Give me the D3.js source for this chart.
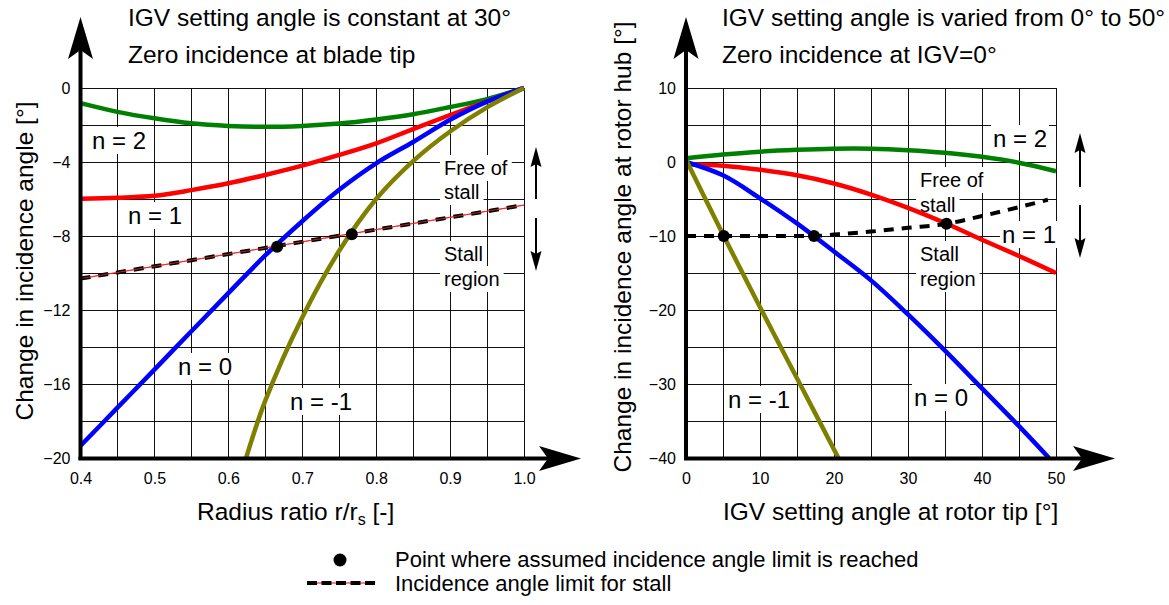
<!DOCTYPE html>
<html><head><meta charset="utf-8">
<script src="https://cdn.jsdelivr.net/npm/d3@7"></script>
<style>
body{margin:0;background:#fff}
svg{display:block}
text{font-family:"Liberation Sans",Arial,Helvetica,sans-serif;fill:#000}
</style></head><body>
<svg id="chart" width="1169" height="605"></svg>
<script>
// ---------- DATA ----------
// Left chart: IGV constant at 30 deg, change of incidence vs radius ratio
const radiusRatio = [0.4,0.45,0.5,0.55,0.6,0.65,0.7,0.75,0.8,0.85,0.9,0.95,1.0];
const leftN2 = [-0.82,-1.29,-1.64,-1.91,-2.05,-2.1,-2.05,-1.92,-1.7,-1.42,-1.03,-0.6,0];
const leftN1 = [-5.98,-5.93,-5.83,-5.52,-5.15,-4.7,-4.2,-3.62,-2.99,-2.22,-1.46,-0.72,0];
const leftN0 = [-19.34,-17.28,-15.22,-13.15,-11.09,-9.05,-7.2,-5.5,-4.07,-2.92,-1.72,-0.74,0];
const leftNm1X = [0.624,0.65,0.7,0.75,0.8,0.85,0.9,0.95,1.0];
const leftNm1 = [-20,-16.9,-12.4,-8.8,-6.0,-3.95,-2.35,-1.05,0];
const leftLimitX = [0.4,1.0];
const leftLimit = [-10.3,-6.33];
const leftStallX = [0.666,0.767];
const leftStallY = [-8.58,-7.91];
const leftXTicks = [0.4,0.5,0.6,0.7,0.8,0.9,1.0];
const leftYTicks = [0,-4,-8,-12,-16,-20];

// Right chart: IGV varied 0..50 deg, change of incidence at hub
const igvAngle = [0,5,10,15,20,25,30,35,40,45,50];
const rightN2 = [0.5,1.0,1.4,1.65,1.8,1.8,1.6,1.25,0.7,-0.1,-1.25];
const rightN1 = [-0.3,-0.5,-1.05,-1.8,-2.9,-4.4,-6.2,-8.25,-10.5,-12.7,-15.0];
const rightN0X = [0,5,10,15,20,25,30,35,40,45,49.05];
const rightN0 = [0,-1.8,-4.9,-8.3,-12.1,-16.0,-20.6,-25.5,-30.6,-35.7,-40];
const rightNm1X = [0,5.1,10.2,15.4,20.6];
const rightNm1 = [0.3,-10,-20,-30,-40];
const rightLimitX = [0,5,10,15,17.3,20,25,30,35.2,40,45,48.9];
const rightLimit = [-10,-10,-10,-10,-10,-9.8,-9.4,-8.9,-8.35,-7.3,-6.1,-5.1];
const rightStallX = [5.1,17.3,35.2];
const rightStallY = [-10,-10,-8.35];
const rightXTicks = [0,10,20,30,40,50];
const rightYTicks = [10,0,-10,-20,-30,-40];

const colors = {n2:"#008000", n1:"#ff0000", n0:"#0000ff", nm1:"#808000"};

// ---------- DRAW ----------
const svg = d3.select("#chart");
const zip = (xs, ys) => xs.map((x,i)=>[x, ys[i]]);

function labelBox(g, x, y, str, size, pad){
  const t = g.append("text").attr("x",x).attr("y",y).attr("font-size",size).text(str);
  const b = t.node().getBBox();
  g.insert("rect", () => t.node())
    .attr("x", b.x - pad).attr("y", b.y - pad + 2)
    .attr("width", b.width + 2*pad).attr("height", b.height + 2*pad - 4)
    .attr("fill", "#fff");
  return t;
}

function arrowHead(g, tipX, tipY, dir, len, half, notch){
  let p;
  if (dir==="up") p = [[tipX,tipY],[tipX-half,tipY+len],[tipX,tipY+len-notch],[tipX+half,tipY+len]];
  else if (dir==="down") p = [[tipX,tipY],[tipX-half,tipY-len],[tipX,tipY-len+notch],[tipX+half,tipY-len]];
  else p = [[tipX,tipY],[tipX-len,tipY-half],[tipX-len+notch,tipY],[tipX-len,tipY+half]];
  g.append("path").attr("d","M"+p.map(d=>d.join(",")).join("L")+"Z").attr("fill","#000");
}

function panel(cfg){
  const g = svg.append("g");
  const x = cfg.x, y = cfg.y;
  const [x0,x1] = x.range(), [y0,y1] = y.range();
  // grid
  const grid = g.append("g").attr("stroke","#111").attr("stroke-width",1).attr("shape-rendering","crispEdges");
  cfg.gridX.forEach(v => grid.append("line").attr("x1",x(v)).attr("x2",x(v)).attr("y1",y0).attr("y2",y1));
  cfg.gridY.forEach(v => grid.append("line").attr("x1",x0).attr("x2",x1).attr("y1",y(v)).attr("y2",y(v)));
  // labels with white boxes
  const lg = g.append("g");
  cfg.labels.forEach(l => labelBox(lg, l.x, l.y, l.t, l.s, l.p===undefined?2:l.p));
  // curves
  const line = d3.line().x(d=>x(d[0])).y(d=>y(d[1])).curve(d3.curveCatmullRom.alpha(0.5));
  cfg.series.forEach(s => g.append("path").datum(s.data).attr("d",line)
      .attr("fill","none").attr("stroke",s.color).attr("stroke-width",4.5).attr("stroke-linecap","butt"));
  // stall limit
  const lin = d3.line().x(d=>x(d[0])).y(d=>y(d[1])).curve(d3.curveMonotoneX);
  if (cfg.redUnder) g.append("path").datum(cfg.limit).attr("d",lin).attr("fill","none").attr("stroke","#ff0000").attr("stroke-width",1);
  g.append("path").datum(cfg.limit).attr("d",lin).attr("fill","none").attr("stroke","#000")
    .attr("stroke-width",4).attr("stroke-dasharray","10,8");
  if (cfg.redUnder) g.append("path").datum(cfg.limit).attr("d",lin).attr("fill","none").attr("stroke","#ff3030").attr("stroke-width",0.7);
  // stall points
  g.selectAll("circle.st").data(cfg.points).enter().append("circle")
    .attr("cx",d=>x(d[0])).attr("cy",d=>y(d[1])).attr("r",6).attr("fill","#000");
  // axes lines and arrows
  g.append("line").attr("x1",x0).attr("x2",x0).attr("y1",y0+2).attr("y2",48).attr("stroke","#000").attr("stroke-width",4);
  arrowHead(g, x0, 17, "up", 42, 12.5, 9);
  g.append("line").attr("x1",x0-2).attr("x2",cfg.xArrowTip-30).attr("y1",y0+0.5).attr("y2",y0+0.5).attr("stroke","#000").attr("stroke-width",4);
  arrowHead(g, cfg.xArrowTip, y0+0.5, "right", 42, 12.5, 9);
  // tick labels via d3 axes
  const ax = g.append("g").attr("transform",`translate(0,${y0})`)
    .call(d3.axisBottom(x).tickValues(cfg.xTicks).tickFormat(cfg.xFmt).tickSize(0).tickPadding(15));
  ax.select(".domain").remove();
  ax.selectAll("text").attr("font-size",16).attr("font-family",null).attr("fill","#000");
  const ay = g.append("g").attr("transform",`translate(${x0},0)`)
    .call(d3.axisLeft(y).tickValues(cfg.yTicks).tickFormat(d3.format("d")).tickSize(0).tickPadding(10));
  ay.select(".domain").remove();
  ay.selectAll("text").attr("font-size",16).attr("font-family",null).attr("fill","#000");
  // region arrows
  const ra = cfg.regionArrow;
  g.append("line").attr("x1",ra.x).attr("x2",ra.x).attr("y1",ra.upTip+10).attr("y2",ra.upBottom).attr("stroke","#000").attr("stroke-width",2);
  arrowHead(g, ra.x, ra.upTip, "up", 20, 5.5, 3);
  g.append("line").attr("x1",ra.x).attr("x2",ra.x).attr("y1",ra.downTop).attr("y2",ra.downTip-10).attr("stroke","#000").attr("stroke-width",2);
  arrowHead(g, ra.x, ra.downTip, "down", 20, 5.5, 3);
  // titles
  cfg.titles.forEach(t=> g.append("text").attr("x",t.x).attr("y",t.y).attr("font-size",24.5).text(t.t));
  // x title
  const xt = g.append("text").attr("x",cfg.xTitle.x).attr("y",520).attr("font-size",24.5);
  cfg.xTitle.parts.forEach(p => {
    const ts = xt.append("tspan").text(p.t);
    if (p.sub) ts.attr("font-size",16).attr("dy",5);
    else if (p.after) ts.attr("dy",-5);
  });
  // y title
  g.append("text").attr("transform",`translate(${cfg.yTitle.x},${cfg.yTitle.y}) rotate(-90)`)
    .attr("text-anchor","middle").attr("font-size",24.5).text(cfg.yTitle.t);
}

const xL = d3.scaleLinear().domain([0.4,1.0]).range([80.5,524]);
const yL = d3.scaleLinear().domain([-20,0]).range([458,88]);
const xR = d3.scaleLinear().domain([0,50]).range([686,1056]);
const yR = d3.scaleLinear().domain([-40,10]).range([458,88]);

panel({
  x:xL, y:yL,
  gridX: d3.range(9,21).map(i=>i*0.05),
  gridY: d3.range(-9,1).map(i=>i*2),
  labels:[
    {x:92,y:149,t:"n = 2",s:24},
    {x:128,y:224,t:"n = 1",s:24},
    {x:178,y:375,t:"n = 0",s:24},
    {x:290,y:410,t:"n = -1",s:24},
    {x:444,y:175,t:"Free of",s:20,p:4},
    {x:444,y:199,t:"stall",s:20,p:4},
    {x:444,y:261,t:"Stall",s:20,p:4},
    {x:444,y:286,t:"region",s:20,p:4}
  ],
  series:[
    {data:zip(radiusRatio,leftN2), color:colors.n2},
    {data:zip(radiusRatio,leftN1), color:colors.n1},
    {data:zip(radiusRatio,leftN0), color:colors.n0},
    {data:zip(leftNm1X,leftNm1), color:colors.nm1}
  ],
  limit: zip(leftLimitX,leftLimit), redUnder:true,
  points: zip(leftStallX,leftStallY),
  xArrowTip:581,
  xTicks:leftXTicks, xFmt:d3.format(".1f"), yTicks:leftYTicks,
  regionArrow:{x:536, upTip:147, upBottom:199, downTop:218, downTip:271},
  titles:[{x:128,y:26,t:"IGV setting angle is constant at 30°"},{x:128,y:62.5,t:"Zero incidence at blade tip"}],
  xTitle:{x:197, parts:[{t:"Radius ratio r/r"},{t:"s",sub:true},{t:" [-]",after:true}]},
  yTitle:{x:33,y:261,t:"Change in incidence angle [°]"}
});

panel({
  x:xR, y:yR,
  gridX: d3.range(1,11).map(i=>i*5),
  gridY: d3.range(-7,3).map(i=>i*5),
  labels:[
    {x:993,y:147,t:"n = 2",s:24},
    {x:1002,y:243,t:"n = 1",s:24},
    {x:914,y:406,t:"n = 0",s:24},
    {x:728,y:408,t:"n = -1",s:24},
    {x:920,y:187,t:"Free of",s:20,p:4},
    {x:920,y:212,t:"stall",s:20,p:4},
    {x:920,y:261,t:"Stall",s:20,p:4},
    {x:920,y:286,t:"region",s:20,p:4}
  ],
  series:[
    {data:zip(igvAngle,rightN2), color:colors.n2},
    {data:zip(igvAngle,rightN1), color:colors.n1},
    {data:zip(rightN0X,rightN0), color:colors.n0},
    {data:zip(rightNm1X,rightNm1), color:colors.nm1}
  ],
  limit: zip(rightLimitX,rightLimit), redUnder:false,
  points: zip(rightStallX,rightStallY),
  xArrowTip:1115,
  xTicks:rightXTicks, xFmt:d3.format("d"), yTicks:rightYTicks,
  regionArrow:{x:1080, upTip:133, upBottom:187, downTop:205, downTip:258},
  titles:[{x:722,y:26,t:"IGV setting angle is varied from 0° to 50°"},{x:722,y:62.5,t:"Zero incidence at IGV=0°"}],
  xTitle:{x:723, parts:[{t:"IGV setting angle at rotor tip [°]"}]},
  yTitle:{x:631,y:247,t:"Change in incidence angle at rotor hub [°]"}
});

// legend
const lg = svg.append("g");
lg.append("circle").attr("cx",340).attr("cy",560).attr("r",6.5).attr("fill","#000");
lg.append("line").attr("x1",307).attr("x2",375).attr("y1",583).attr("y2",583).attr("stroke","#ff0000").attr("stroke-width",1);
lg.append("line").attr("x1",307).attr("x2",375).attr("y1",583).attr("y2",583).attr("stroke","#000").attr("stroke-width",4).attr("stroke-dasharray","10,4.5");
lg.append("text").attr("x",395).attr("y",567).attr("font-size",22).text("Point where assumed incidence angle limit is reached");
lg.append("text").attr("x",395).attr("y",591).attr("font-size",22).text("Incidence angle limit for stall");
</script>
</body></html>
